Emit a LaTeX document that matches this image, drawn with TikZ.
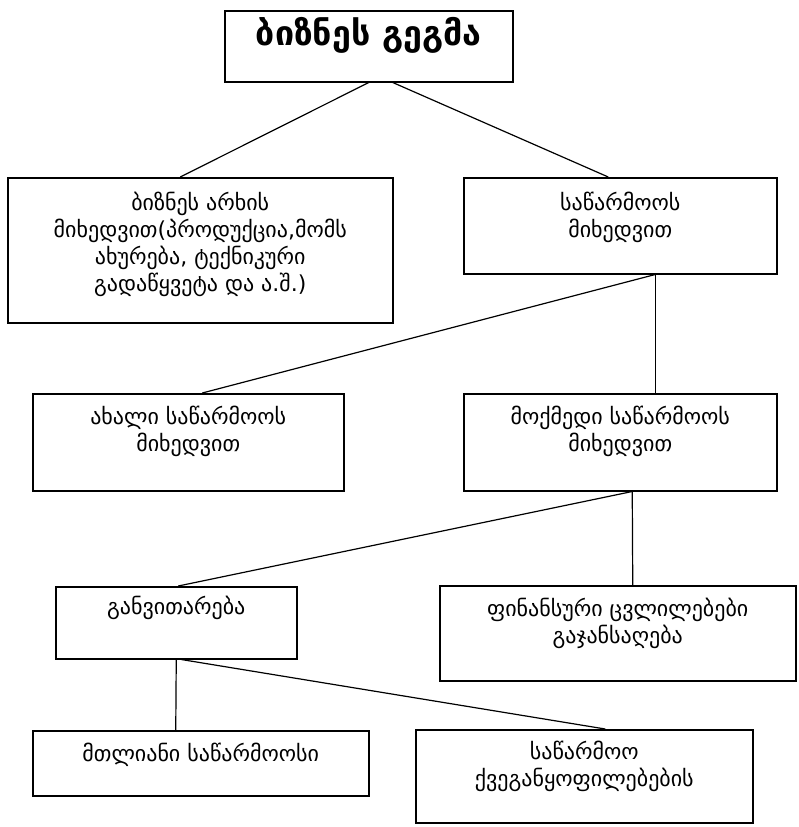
\documentclass[tikz,border=0pt]{standalone}
\usepackage{fontspec}
\setmainfont{DejaVu Sans}
\usetikzlibrary{calc}

\tikzset{
  blk/.style={draw, line width=1.5pt, inner sep=0pt, anchor=north west,
    font=\fontsize{22}{27}\selectfont},
  lnk/.style={line width=1.2pt},
}
% box text: width, height, top gap, text
\newcommand{\bxt}[4]{\parbox[t][#2][t]{#1}{\centering\vspace*{#3}#4}}

\begin{document}
\begin{tikzpicture}[x=1pt,y=-1pt]
\useasboundingbox (0,0) rectangle (798,827);

\node[blk] (plan) at (224,10)
  {\bxt{288pt}{71pt}{7pt}{\fontsize{34}{40}\selectfont\bfseries ბიზნეს გეგმა}};

\node[blk] (channel) at (7,177)
  {\bxt{385pt}{145pt}{14pt}{ბიზნეს არხის\\მიხედვით(პროდუქცია,მომს\\ახურება, ტექნიკური\\გადაწყვეტა და ა.შ.)}};
\node[blk] (firm) at (463,177)
  {\bxt{313pt}{96pt}{14pt}{საწარმოოს\\მიხედვით}};

\node[blk] (newfirm) at (32,393)
  {\bxt{311pt}{97pt}{12pt}{ახალი საწარმოოს\\მიხედვით}};
\node[blk] (actfirm) at (463,393)
  {\bxt{313pt}{97pt}{12pt}{მოქმედი საწარმოოს\\მიხედვით}};

\node[blk] (devel) at (55,586)
  {\bxt{241pt}{72pt}{9pt}{განვითარება}};
\node[blk] (fin) at (439,585)
  {\bxt{356pt}{95pt}{12pt}{ფინანსური ცვლილებები\\გაჯანსაღება}};

\node[blk] (whole) at (32,730)
  {\bxt{336pt}{65pt}{12pt}{მთლიანი საწარმოოსი}};
\node[blk] (subdiv) at (415,729)
  {\bxt{337pt}{93pt}{11pt}{საწარმოო\\ქვეგანყოფილებების}};

% connectors
\draw[lnk] (plan.south) -- ([xshift=-20pt]channel.north);
\draw[lnk] ([xshift=24pt]plan.south) -- ([xshift=-12pt]firm.north);

\draw[lnk] ([xshift=35pt]firm.south) -- ([xshift=14pt]newfirm.north);
\draw[lnk] ([xshift=35pt]firm.south) -- ([xshift=35pt]actfirm.north);

\draw[lnk] ([xshift=12pt]actfirm.south) -- ([xshift=2pt]devel.north);
\draw[lnk] ([xshift=12pt]actfirm.south) -- ([xshift=15pt]fin.north);

\draw[lnk] (devel.south) -- ([xshift=-25pt]whole.north);
\draw[lnk] ([xshift=5pt]devel.south) -- ([xshift=21pt]subdiv.north);

\end{tikzpicture}
\end{document}
